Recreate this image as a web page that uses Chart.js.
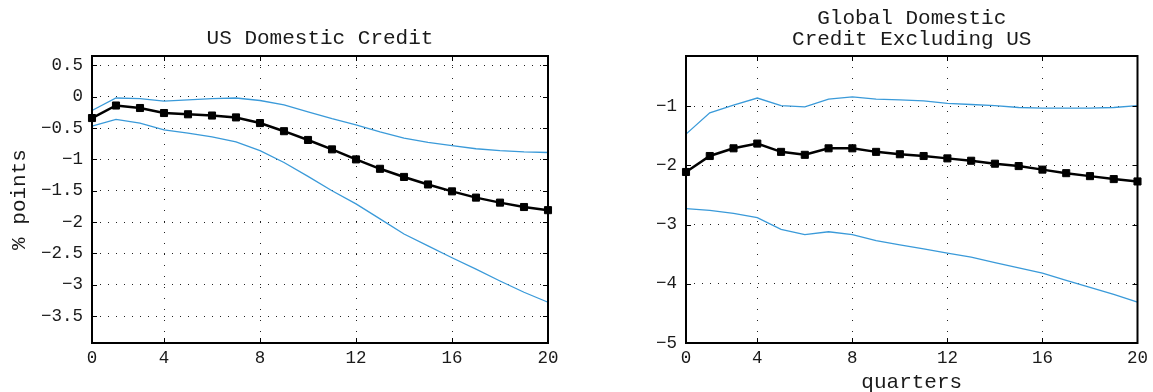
<!DOCTYPE html>
<html>
<head>
<meta charset="utf-8">
<script src="https://cdn.jsdelivr.net/npm/chart.js@4"></script>
<style>
  html, body { margin: 0; padding: 0; background: #fff; }
  #wrap { position: relative; width: 1153px; height: 392px; }
  #c1 { position: absolute; left: 0; top: 0; }
  #c2 { position: absolute; left: 576px; top: 0; }
</style>
</head>
<body>
<div id="wrap">
  <canvas id="c1" width="576" height="392"></canvas>
  <canvas id="c2" width="577" height="392"></canvas>
</div>
<script>
// ---- data ----
const quarters = [1,2,3,4,5,6,7,8,9,10,11,12,13,14,15,16,17,18,19,20];
const xTickPos = [1,4,8,12,16,20];
const xTickLabels = ["0","4","8","12","16","20"];

const usMedian = [-0.34,-0.14,-0.18,-0.26,-0.28,-0.30,-0.33,-0.42,-0.55,-0.69,-0.84,-1.00,-1.15,-1.28,-1.40,-1.51,-1.61,-1.69,-1.76,-1.81];
const usUpper  = [-0.22,-0.02,-0.03,-0.07,-0.05,-0.03,-0.02,-0.06,-0.13,-0.24,-0.35,-0.45,-0.56,-0.66,-0.73,-0.78,-0.83,-0.86,-0.88,-0.89];
const usLower  = [-0.47,-0.36,-0.42,-0.53,-0.58,-0.64,-0.72,-0.86,-1.05,-1.27,-1.50,-1.71,-1.95,-2.19,-2.38,-2.57,-2.75,-2.94,-3.12,-3.28];
const usYTicks = [0.5,0,-0.5,-1,-1.5,-2,-2.5,-3,-3.5];

const glMedian = [-2.11,-1.84,-1.71,-1.63,-1.77,-1.82,-1.71,-1.71,-1.77,-1.81,-1.84,-1.88,-1.92,-1.97,-2.01,-2.07,-2.13,-2.18,-2.23,-2.27];
const glUpper  = [-1.47,-1.11,-0.98,-0.86,-0.99,-1.01,-0.88,-0.84,-0.88,-0.89,-0.91,-0.95,-0.97,-0.99,-1.02,-1.03,-1.03,-1.03,-1.02,-0.99];
const glLower  = [-2.73,-2.76,-2.81,-2.88,-3.08,-3.17,-3.12,-3.17,-3.27,-3.34,-3.41,-3.48,-3.55,-3.64,-3.73,-3.82,-3.94,-4.06,-4.18,-4.31];
const glYTicks = [-1,-2,-3,-4,-5];

const BLUE = '#3a9ad9';
const MONO = '"Liberation Mono", "DejaVu Sans Mono", monospace';
const TXT = '#1a1a1a';

function pts(ys) { return quarters.map((q, i) => ({ x: q, y: ys[i] })); }
function fmt(v) { return (v < 0 ? '\u2212' : '') + String(Math.abs(v)); }

const framePlugin = {
  id: 'frame',
  afterDraw(chart, args, opts) {
    const { ctx, chartArea: a } = chart;
    const xs = chart.scales.x, ys = chart.scales.y;
    ctx.save();
    ctx.strokeStyle = '#000';
    ctx.lineWidth = 1;
    const L = 5;
    ctx.beginPath();
    xs.ticks.forEach(t => {
      const px = Math.round(xs.getPixelForValue(t.value)) + 0.5;
      ctx.moveTo(px, a.bottom); ctx.lineTo(px, a.bottom - L);
      ctx.moveTo(px, a.top); ctx.lineTo(px, a.top + L);
    });
    ys.ticks.forEach(t => {
      const py = Math.round(ys.getPixelForValue(t.value)) + 0.5;
      ctx.moveTo(a.left, py); ctx.lineTo(a.left + L, py);
      ctx.moveTo(a.right, py); ctx.lineTo(a.right - L, py);
    });
    ctx.stroke();
    ctx.lineWidth = 2;
    ctx.strokeRect(a.left, a.top, a.right - a.left, a.bottom - a.top);
    // texts
    ctx.fillStyle = TXT;
    ctx.font = '21px ' + MONO;
    ctx.textAlign = 'center';
    ctx.textBaseline = 'alphabetic';
    const cx = (a.left + a.right) / 2;
    opts.title.forEach((line, i) => ctx.fillText(line, cx, opts.titleBase + i * 21));
    if (opts.xLabel) ctx.fillText(opts.xLabel, cx, 388);
    if (opts.yLabel) {
      ctx.save();
      ctx.translate(25, (a.top + a.bottom) / 2);
      ctx.rotate(-Math.PI / 2);
      ctx.fillText(opts.yLabel, 0, 0);
      ctx.restore();
    }
    ctx.restore();
  }
};

function makeChart(id, med, up, lo, yTicks, ymin, ymax, yWidth, padRight, frameOpts) {
  const ds = (data, color, width, marker) => ({
    data: pts(data),
    borderColor: color,
    backgroundColor: color,
    borderWidth: width,
    pointRadius: marker ? 5 : 0,
    pointStyle: 'rect',
    pointBorderWidth: 1,
    tension: 0,
    clip: false
  });
  return new Chart(document.getElementById(id), {
    type: 'line',
    data: {
      datasets: [
        ds(up, BLUE, 1.3, false),
        ds(lo, BLUE, 1.3, false),
        ds(med, '#000', 2.5, true)
      ]
    },
    options: {
      responsive: false,
      animation: false,
      events: [],
      layout: { padding: { top: 56, right: padRight, left: 0, bottom: 0 } },
      plugins: { legend: { display: false }, tooltip: { enabled: false }, frame: frameOpts },
      scales: {
        x: {
          type: 'linear', min: 1, max: 20,
          afterBuildTicks: s => { s.ticks = xTickPos.map(v => ({ value: v })); },
          afterFit: s => { s.height = 49; },
          ticks: {
            callback: v => xTickLabels[xTickPos.indexOf(v)],
            font: { family: MONO, size: 17.5 }, color: TXT, padding: 5, maxRotation: 0, autoSkip: false
          },
          grid: { color: '#222', lineWidth: 1, drawTicks: false },
          border: { display: false, dash: [1, 10] }
        },
        y: {
          type: 'linear', min: ymin, max: ymax,
          afterBuildTicks: s => { s.ticks = yTicks.map(v => ({ value: v })); },
          afterFit: s => { s.width = yWidth; },
          ticks: {
            callback: v => fmt(v),
            font: { family: MONO, size: 17.5 }, color: TXT, padding: 9, autoSkip: false
          },
          grid: { color: '#222', lineWidth: 1, drawTicks: false },
          border: { display: false, dash: [1, 7] }
        }
      }
    },
    plugins: [framePlugin]
  });
}

makeChart('c1', usMedian, usUpper, usLower, usYTicks, -3.93, 0.65, 92, 28,
  { title: ['US Domestic Credit'], titleBase: 44, yLabel: '% points', xLabel: null });
makeChart('c2', glMedian, glUpper, glLower, glYTicks, -5, -0.15, 110, 11,
  { title: ['Global Domestic', 'Credit Excluding US'], titleBase: 24, yLabel: null, xLabel: 'quarters' });
</script>
</body>
</html>
